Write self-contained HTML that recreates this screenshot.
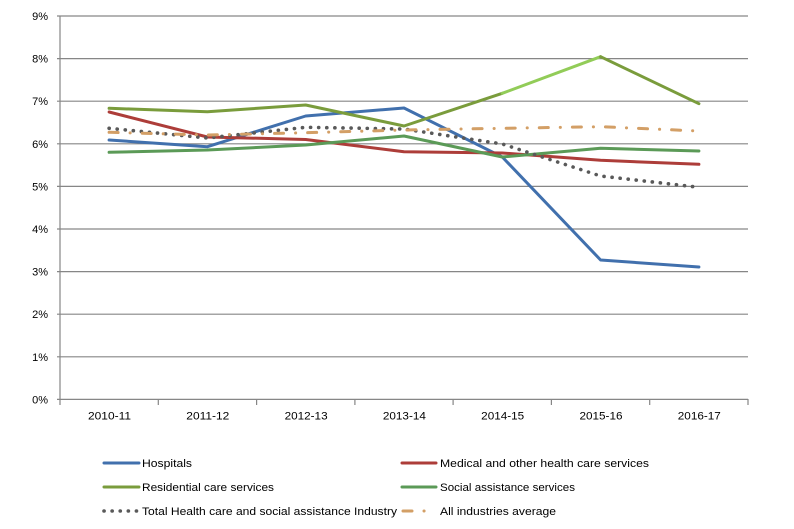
<!DOCTYPE html>
<html>
<head>
<meta charset="utf-8">
<style>
html,body{margin:0;padding:0;background:#fff;}
svg{display:block;}
text{font-family:"Liberation Sans",sans-serif;fill:#000;}
</style>
</head>
<body>
<svg width="794" height="529" viewBox="0 0 794 529" xmlns="http://www.w3.org/2000/svg">
<rect width="794" height="529" fill="#fff"/>
<!-- gridlines -->
<g stroke="#868686" stroke-width="1.2">
<line x1="57" y1="16" x2="748" y2="16"/>
<line x1="57" y1="58.6" x2="748" y2="58.6"/>
<line x1="57" y1="101.2" x2="748" y2="101.2"/>
<line x1="57" y1="143.8" x2="748" y2="143.8"/>
<line x1="57" y1="186.4" x2="748" y2="186.4"/>
<line x1="57" y1="229" x2="748" y2="229"/>
<line x1="57" y1="271.6" x2="748" y2="271.6"/>
<line x1="57" y1="314.2" x2="748" y2="314.2"/>
<line x1="57" y1="356.8" x2="748" y2="356.8"/>
<line x1="57" y1="399.4" x2="748" y2="399.4"/>
<line x1="60" y1="16" x2="60" y2="399.4"/>
<line x1="60" y1="399" x2="60" y2="405"/>
<line x1="158.3" y1="399" x2="158.3" y2="405"/>
<line x1="256.6" y1="399" x2="256.6" y2="405"/>
<line x1="354.9" y1="399" x2="354.9" y2="405"/>
<line x1="453.1" y1="399" x2="453.1" y2="405"/>
<line x1="551.4" y1="399" x2="551.4" y2="405"/>
<line x1="649.7" y1="399" x2="649.7" y2="405"/>
<line x1="748" y1="399" x2="748" y2="405"/>
</g>
<!-- y labels -->
<g font-size="11" text-anchor="end">
<text x="48" y="20">9%</text>
<text x="48" y="62.6">8%</text>
<text x="48" y="105.2">7%</text>
<text x="48" y="147.8">6%</text>
<text x="48" y="190.4">5%</text>
<text x="48" y="233">4%</text>
<text x="48" y="275.6">3%</text>
<text x="48" y="318.2">2%</text>
<text x="48" y="360.8">1%</text>
<text x="48" y="403.4">0%</text>
</g>
<!-- x labels -->
<g font-size="11">
<text x="88" y="419.5" textLength="43" lengthAdjust="spacingAndGlyphs">2010-11</text>
<text x="186.3" y="419.5" textLength="43" lengthAdjust="spacingAndGlyphs">2011-12</text>
<text x="284.6" y="419.5" textLength="43" lengthAdjust="spacingAndGlyphs">2012-13</text>
<text x="382.9" y="419.5" textLength="43" lengthAdjust="spacingAndGlyphs">2013-14</text>
<text x="481.2" y="419.5" textLength="43" lengthAdjust="spacingAndGlyphs">2014-15</text>
<text x="579.5" y="419.5" textLength="43" lengthAdjust="spacingAndGlyphs">2015-16</text>
<text x="677.8" y="419.5" textLength="43" lengthAdjust="spacingAndGlyphs">2016-17</text>
</g>
<!-- series -->
<g fill="none" stroke-width="3" stroke-linejoin="round" stroke-linecap="round">
<polyline stroke="#4170ad" points="109.1,140 207.4,146.7 305.7,116 404,108 502.3,157 600.6,260 698.9,267"/>
<polyline stroke="#ad3d39" points="109.1,112 207.4,137 305.7,139.5 404,151.7 502.3,153 600.6,160.3 698.9,164.3"/>
<polyline stroke="#7a9c3c" points="109.1,108.3 207.4,111.7 305.7,105 404,126 502.3,93.3"/>
<polyline stroke="#92cc58" points="502.3,93.3 600.6,56.7"/>
<polyline stroke="#7a9c3c" points="600.6,56.7 698.9,103.7"/>
<polyline stroke="#5b9a57" points="109.1,152.3 207.4,150 305.7,145 404,136 502.3,157 600.6,148.3 698.9,151"/>
<polyline stroke="#595959" stroke-width="3.6" stroke-dasharray="0.1 8" points="109.1,128.3 207.4,138 305.7,127.3 404,129 502.3,144 600.6,176 698.9,187.3"/>
<polyline stroke="#d39f66" stroke-dasharray="9 12 0.1 12" points="109.1,132.3 207.4,135 305.7,132.7 404,130 502.3,128.3 600.6,126.7 698.9,131"/>
</g>
<!-- legend -->
<g stroke-width="3" stroke-linecap="round" fill="none">
<line x1="104" y1="463" x2="139" y2="463" stroke="#4170ad"/>
<line x1="104" y1="487" x2="139" y2="487" stroke="#7a9c3c"/>
<line x1="104" y1="511" x2="139" y2="511" stroke="#595959" stroke-width="3.6" stroke-dasharray="0.1 8"/>
<line x1="402" y1="463" x2="436" y2="463" stroke="#ad3d39"/>
<line x1="402" y1="487" x2="436" y2="487" stroke="#5b9a57"/>
<line x1="403" y1="511" x2="436" y2="511" stroke="#d39f66" stroke-dasharray="9 12 0.1 12"/>
</g>
<g font-size="11">
<text x="142" y="467" textLength="50" lengthAdjust="spacingAndGlyphs">Hospitals</text>
<text x="142" y="491" textLength="132" lengthAdjust="spacingAndGlyphs">Residential care services</text>
<text x="142" y="515" textLength="255" lengthAdjust="spacingAndGlyphs">Total Health care and social assistance Industry</text>
<text x="440" y="467" textLength="209" lengthAdjust="spacingAndGlyphs">Medical and other health care services</text>
<text x="440" y="491" textLength="135" lengthAdjust="spacingAndGlyphs">Social assistance services</text>
<text x="440" y="515" textLength="116" lengthAdjust="spacingAndGlyphs">All industries average</text>
</g>
</svg>
</body>
</html>
